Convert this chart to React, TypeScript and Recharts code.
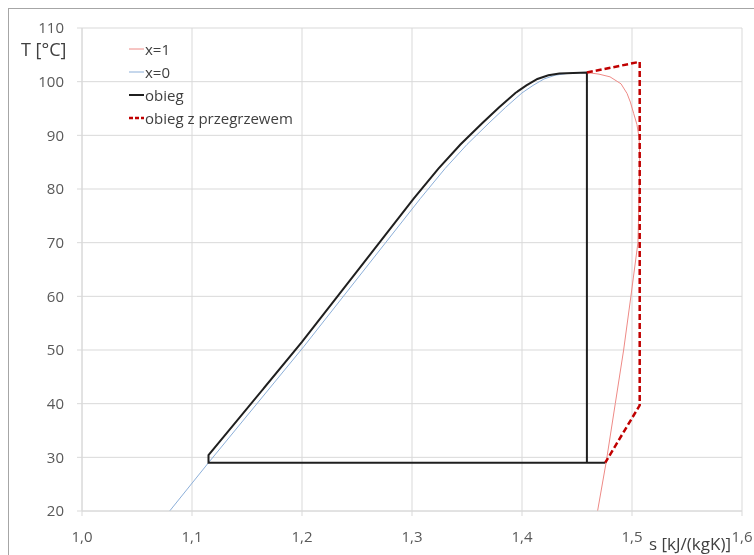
import React from 'react';
import { LineChart, Line, XAxis, YAxis, CartesianGrid, Legend } from 'recharts';

// Saturated vapour line (x=1)
const x1S = [1.4687, 1.4766, 1.4848, 1.4924, 1.499, 1.5054, 1.5066, 1.507, 1.5065, 1.5045, 1.5015, 1.4985, 1.4955, 1.49, 1.48, 1.47, 1.459];
const x1T = [20, 29.2, 40, 50, 60, 70, 80, 86, 89.5, 92, 94.1, 96.2, 97.8, 99.6, 100.9, 101.4, 101.7];

// Saturated liquid line (x=0)
const x0S = [1.0797, 1.115, 1.2015, 1.3075, 1.33, 1.35, 1.37, 1.385, 1.4, 1.41, 1.42, 1.43, 1.44, 1.459];
const x0T = [20, 29, 50.6, 78.2, 83.8, 88.3, 92.3, 95.2, 97.9, 99.3, 100.5, 101.2, 101.5, 101.7];

// Cycle (obieg)
const cycleS = [1.4757, 1.115, 1.115, 1.2, 1.3015, 1.324, 1.344, 1.364, 1.379, 1.394, 1.404, 1.414, 1.424, 1.434, 1.459, 1.459];
const cycleT = [29, 29, 30.4, 51.5, 78.2, 83.8, 88.3, 92.3, 95.2, 97.9, 99.3, 100.5, 101.2, 101.5, 101.7, 29];

// Cycle with superheating (obieg z przegrzewem)
const superS = [1.459, 1.507, 1.507, 1.4757];
const superT = [101.7, 103.7, 39.7, 29];

const xTicks = [1.0, 1.1, 1.2, 1.3, 1.4, 1.5, 1.6];
const yTicks = [20, 30, 40, 50, 60, 70, 80, 90, 100, 110];

const toPts = (s: number[], t: number[]) => s.map((v, i) => ({ s: v, T: t[i] }));

const series = [
  { name: 'x=1', data: toPts(x1S, x1T), color: '#ee8a86', width: 1, dash: undefined as string | undefined },
  { name: 'x=0', data: toPts(x0S, x0T), color: '#8cafd9', width: 1, dash: undefined as string | undefined },
  { name: 'obieg', data: toPts(cycleS, cycleT), color: '#1f1f1f', width: 2, dash: undefined as string | undefined },
  { name: 'obieg z przegrzewem', data: toPts(superS, superT), color: '#c00000', width: 2.5, dash: '6 3' },
];

const fmt = (v: number) => v.toFixed(1).replace('.', ',');

const FONT = '"Open Sans", sans-serif';

const LegendContent = () => (
  <div style={{ fontFamily: FONT, fontSize: 15, color: '#404040' }}>
    {series.map((s) => (
      <div key={s.name} style={{ display: 'flex', alignItems: 'center', height: 23, whiteSpace: 'nowrap' }}>
        <svg width={15} height={10} style={{ display: 'block' }}>
          <line x1={0} y1={5} x2={15} y2={5} stroke={s.color} strokeWidth={s.width} strokeDasharray={s.dash ? '4 2' : undefined} />
        </svg>
        <span style={{ marginLeft: 1 }}>{s.name}</span>
      </div>
    ))}
  </div>
);

export default function App() {
  return (
    <div style={{ position: 'fixed', left: 8, top: 8, width: 746, height: 547, fontFamily: FONT }}>
      <div
        style={{
          position: 'absolute', left: 0, top: 0, width: 746, height: 547,
          borderLeft: '1px solid #a6a6a6', borderTop: '1px solid #a6a6a6', boxSizing: 'border-box',
        }}
      />
      <LineChart width={746} height={547} margin={{ top: 20, right: 12, bottom: 0, left: 0 }} style={{ overflow: 'visible' }}>
        <CartesianGrid stroke="#d9d9d9" strokeWidth={1} />
        <XAxis
          type="number"
          dataKey="s"
          domain={[1.0, 1.6]}
          ticks={xTicks}
          tickFormatter={fmt}
          allowDataOverflow
          height={44}
          tickSize={5}
          tickMargin={15}
          axisLine={{ stroke: '#d9d9d9' }}
          tickLine={{ stroke: '#d9d9d9' }}
          tick={{ fill: '#595959', fontSize: 15, fontFamily: FONT }}
        />
        <YAxis
          type="number"
          dataKey="T"
          domain={[20, 110]}
          ticks={yTicks}
          allowDataOverflow
          width={74}
          tickSize={5}
          tickMargin={13}
          axisLine={{ stroke: '#d9d9d9' }}
          tickLine={{ stroke: '#d9d9d9' }}
          tick={{ fill: '#595959', fontSize: 15, fontFamily: FONT }}
        />
        <Legend
          layout="vertical"
          align="center"
          verticalAlign="middle"
          content={LegendContent}
          wrapperStyle={{ position: 'absolute', left: 121, top: 29.5, width: 'auto', height: 'auto' }}
        />
        {series.map((s) => (
          <Line
            key={s.name}
            name={s.name}
            data={s.data}
            dataKey="T"
            type="linear"
            stroke={s.color}
            strokeWidth={s.width}
            strokeDasharray={s.dash}
            dot={false}
            activeDot={false}
            isAnimationActive={false}
          />
        ))}
      </LineChart>
      <div style={{ position: 'absolute', left: 13, top: 29, fontSize: 18, color: '#404040', whiteSpace: 'nowrap' }}>
        T [°C]
      </div>
      <div style={{ position: 'absolute', left: 641, top: 524, fontSize: 17, color: '#404040', whiteSpace: 'nowrap' }}>
        s [kJ/(kgK)]
      </div>
    </div>
  );
}
